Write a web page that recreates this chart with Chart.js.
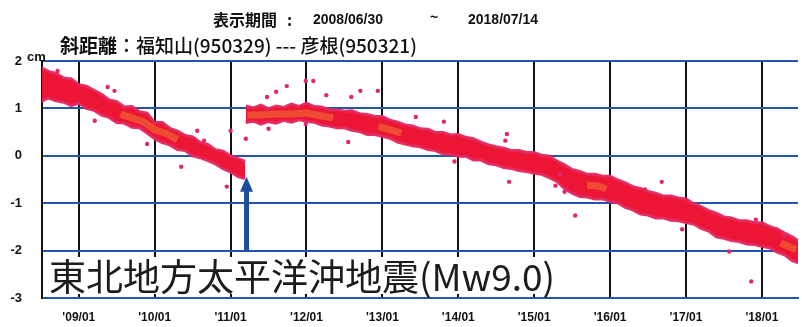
<!DOCTYPE html>
<html>
<head>
<meta charset="utf-8">
<script src="https://cdn.jsdelivr.net/npm/chart.js@4.4.1/dist/chart.umd.min.js"></script>
<style>
  body { margin: 0; background: #fff; overflow: hidden; }
  #wrap { width: 802px; height: 327px; position: relative; }
</style>
</head>
<body>
<div id="wrap"><canvas id="myChart"></canvas></div>
<script>

// header texts
var periodLabel = '表示期間';
var periodStart = '2008/06/30';
var periodEnd = '2018/07/14';
var baselineLabel = '斜距離';
var baselineText = '：福知山(950329) --- 彦根(950321)';
var quakeLabel = '東北地方太平洋沖地震(Mw9.0)';

// x = decimal year, y = cm
var yTicks = [-3, -2, -1, 0, 1, 2];
var xTicks = [2009, 2010, 2011, 2012, 2013, 2014, 2015, 2016, 2017, 2018];
var xMin = 2008.515, xMax = 2018.476;

// band before the quake (upper / lower edge of the dot cloud)
var t1 = [2008.5, 2008.6, 2008.7, 2008.8, 2008.9, 2009.0, 2009.1, 2009.2, 2009.3, 2009.4,
  2009.5, 2009.6, 2009.7, 2009.8, 2009.9, 2010.0, 2010.1, 2010.2, 2010.3, 2010.4,
  2010.5, 2010.6, 2010.7, 2010.8, 2010.9, 2011.0, 2011.1, 2011.19];
var up1 = [1.86, 1.78, 1.74, 1.64, 1.62, 1.50, 1.47, 1.38, 1.30, 1.18,
  1.14, 1.03, 1.04, 0.93, 0.90, 0.70, 0.70, 0.58, 0.52, 0.43,
  0.40, 0.28, 0.24, 0.13, 0.10, 0.00, -0.06, -0.12];
var lo1 = [1.14, 1.22, 1.16, 1.13, 1.06, 1.11, 1.00, 0.96, 0.86, 0.81,
  0.70, 0.69, 0.60, 0.59, 0.48, 0.36, 0.28, 0.23, 0.13, 0.11,
  0.00, -0.04, -0.10, -0.17, -0.27, -0.34, -0.44, -0.48];

// band after the quake
var t2 = [2011.2, 2011.3, 2011.4, 2011.5, 2011.6, 2011.7, 2011.8, 2011.9, 2012.0, 2012.1,
  2012.2, 2012.3, 2012.4, 2012.5, 2012.6, 2012.7, 2012.8, 2012.9, 2013.0, 2013.1,
  2013.2, 2013.3, 2013.4, 2013.5, 2013.6, 2013.7, 2013.8, 2013.9, 2014.0, 2014.1,
  2014.2, 2014.3, 2014.4, 2014.5, 2014.6, 2014.7, 2014.8, 2014.9, 2015.0, 2015.1,
  2015.2, 2015.3, 2015.4, 2015.5, 2015.6, 2015.7, 2015.8, 2015.9, 2016.0, 2016.1,
  2016.2, 2016.3, 2016.4, 2016.5, 2016.6, 2016.7, 2016.8, 2016.9, 2017.0, 2017.1,
  2017.2, 2017.3, 2017.4, 2017.5, 2017.6, 2017.7, 2017.8, 2017.9, 2018.0, 2018.1,
  2018.2, 2018.3, 2018.4, 2018.5];
var up2 = [1.05, 1.01, 1.07, 0.99, 1.05, 1.02, 1.09, 1.04, 1.11, 1.04,
  1.03, 0.97, 0.97, 0.94, 0.95, 0.89, 0.87, 0.83, 0.83, 0.75,
  0.71, 0.65, 0.63, 0.57, 0.56, 0.49, 0.49, 0.44, 0.45, 0.39,
  0.36, 0.29, 0.23, 0.19, 0.16, 0.11, 0.11, 0.07, 0.07, 0.01,
  -0.01, -0.11, -0.19, -0.29, -0.33, -0.39, -0.39, -0.43, -0.43, -0.51,
  -0.57, -0.65, -0.69, -0.75, -0.79, -0.85, -0.85, -0.89, -0.91, -1.01,
  -1.07, -1.16, -1.21, -1.29, -1.31, -1.37, -1.37, -1.41, -1.41, -1.49,
  -1.54, -1.63, -1.71, -1.81];
var lo2 = [0.70, 0.73, 0.67, 0.72, 0.69, 0.75, 0.71, 0.76, 0.73, 0.71,
  0.65, 0.63, 0.59, 0.59, 0.54, 0.51, 0.45, 0.45, 0.41, 0.37,
  0.29, 0.25, 0.21, 0.19, 0.13, 0.11, 0.04, 0.03, -0.01, -0.01,
  -0.09, -0.09, -0.17, -0.19, -0.25, -0.27, -0.31, -0.33, -0.37, -0.39,
  -0.46, -0.54, -0.69, -0.79, -0.86, -0.87, -0.91, -0.91, -0.96, -0.99,
  -1.09, -1.14, -1.23, -1.25, -1.31, -1.31, -1.36, -1.37, -1.41, -1.44,
  -1.53, -1.59, -1.71, -1.74, -1.79, -1.81, -1.86, -1.87, -1.91, -1.94,
  -2.03, -2.09, -2.21, -2.27];

// orange core inside the band
var tCore = [2009.55, 2009.7, 2009.85, 2010.0, 2010.15, 2010.3, null,
  2011.22, 2011.4, 2011.6, 2011.8, 2012.0, 2012.2, 2012.35, null,
  2012.95, 2013.1, 2013.25, null, 2015.7, 2015.85, 2015.95, null, 2018.25, 2018.45];
var yCore = [0.88, 0.80, 0.72, 0.55, 0.47, 0.34, null,
  0.86, 0.86, 0.88, 0.88, 0.90, 0.84, 0.80, null,
  0.62, 0.55, 0.48, null, -0.62, -0.64, -0.70, null, -1.84, -1.98];

// scattered dots off the band
var outX = [2008.72, 2009.38, 2009.47, 2009.21, 2010.56, 2010.65, 2010.35, 2011.0, 2011.2, 2010.95,
  2011.99, 2012.09, 2011.74, 2011.6, 2011.48, 2011.5, 2011.99, 2012.26, 2012.59, 2012.71,
  2012.94, 2012.55, 2013.44, 2013.81, 2014.64, 2014.62, 2014.67, 2015.28, 2015.4, 2015.54,
  2016.68, 2017.57, 2017.86, 2015.34, 2016.46, 2017.92, 2018.3, 2009.9, 2013.95, 2016.95];
var outY = [1.79, 1.45, 1.37, 0.74, 0.53, 0.32, -0.23, 0.53, 0.36, -0.65,
  1.58, 1.58, 1.47, 1.35, 1.24, 0.57, 0.67, 1.28, 1.24, 1.37,
  1.37, 0.29, 0.82, 0.72, 0.46, 0.32, -0.55, -0.63, -0.76, -1.26,
  -0.55, -2.02, -2.65, -0.38, -0.71, -1.35, -1.68, 0.25, -0.12, -1.55];

// quake arrow
var quakeX = 2011.21, arrowTop = -0.44, arrowBottom = -2.0;

function pts(xs, ys) {
  return xs.map((x, i) => ({ x: x, y: ys[i] }));
}

var red = 'rgb(236, 22, 52)';
var edge = 'rgba(228, 40, 95, 0.95)';

var overlay = {
  id: 'overlay',
  afterDatasetsDraw(chart) {
    var ctx = chart.ctx;
    var xs = chart.scales.x, ys = chart.scales.y;
    var ax = xs.getPixelForValue(quakeX);
    var aTop = ys.getPixelForValue(arrowTop);
    var aBot = ys.getPixelForValue(arrowBottom);
    ctx.save();
    // arrow
    ctx.fillStyle = 'rgb(28, 78, 160)';
    ctx.fillRect(ax - 2.5, aTop + 12, 5, aBot - aTop - 12);
    ctx.beginPath();
    ctx.moveTo(ax, aTop);
    ctx.lineTo(ax - 6.5, aTop + 15);
    ctx.lineTo(ax + 6.5, aTop + 15);
    ctx.closePath();
    ctx.fill();
    // quake label on white box
    ctx.font = '37px "Noto Sans CJK JP"';
    var w = ctx.measureText(quakeLabel).width;
    ctx.fillStyle = '#fff';
    ctx.fillRect(chart.chartArea.left + 2, 257, w + 12, 37);
    ctx.fillStyle = '#1c1c1c';
    ctx.textBaseline = 'middle';
    ctx.fillText(quakeLabel, 49, 277);
    ctx.restore();
  },
  afterDraw(chart) {
    var ctx = chart.ctx;
    ctx.save();
    ctx.fillStyle = '#111';
    ctx.textBaseline = 'middle';
    ctx.font = 'bold 16px "Noto Sans CJK JP"';
    ctx.fillText(periodLabel, 213, 20);
    ctx.fillText(':', 287, 20);
    ctx.font = 'bold 14px "Liberation Sans"';
    ctx.fillText(periodStart, 313, 20);
    ctx.fillText('~', 430, 18);
    ctx.fillText(periodEnd, 468, 20);
    ctx.font = 'bold 19px "Noto Sans CJK JP"';
    ctx.fillText(baselineLabel, 60, 46);
    var bw = ctx.measureText(baselineLabel).width;
    ctx.font = '500 19px "Noto Sans CJK JP"';
    ctx.fillText(baselineText, 60 + bw, 46);
    ctx.font = 'bold 13px "Liberation Sans"';
    ctx.fillText('cm', 27, 57);
    ctx.restore();
  }
};

var ctx = document.getElementById('myChart').getContext('2d');
var chart = new Chart(ctx, {
  type: 'line',
  data: {
    datasets: [
      { data: pts(t1, up1), borderColor: edge, borderWidth: 3, pointRadius: 0, fill: false, order: 3 },
      { data: pts(t1, lo1), borderColor: edge, borderWidth: 3, pointRadius: 0, fill: '-1', backgroundColor: red, order: 3 },
      { data: pts(t2, up2), borderColor: edge, borderWidth: 3, pointRadius: 0, fill: false, order: 3 },
      { data: pts(t2, lo2), borderColor: edge, borderWidth: 3, pointRadius: 0, fill: '-1', backgroundColor: red, order: 3 },
      { data: pts(tCore, yCore), borderColor: 'rgba(242, 110, 50, 0.6)', borderWidth: 7, pointRadius: 0,
        spanGaps: false, fill: false, order: 1 },
      { data: pts(outX, outY), showLine: false, pointRadius: 2.2, borderWidth: 0,
        pointBackgroundColor: 'rgb(225, 40, 110)', fill: false, order: 0 }
    ]
  },
  options: {
    responsive: true,
    maintainAspectRatio: false,
    animation: false,
    layout: { padding: { top: 61, left: 0, right: 0, bottom: 0 } },
    plugins: { legend: { display: false }, tooltip: { enabled: false } },
    scales: {
      x: {
        type: 'linear',
        min: xMin,
        max: xMax,
        afterFit: (s) => { s.height = 29; },
        afterBuildTicks: (s) => { s.ticks = xTicks.map((v) => ({ value: v })); },
        ticks: {
          padding: 12,
          color: '#111',
          font: { family: 'Liberation Sans Narrow, Liberation Sans', size: 12, weight: 'bold' },
          callback: (v) => "'" + String(v).slice(2) + '/01'
        },
        grid: { color: '#111', lineWidth: 2, drawTicks: false },
        border: { color: 'rgb(35, 85, 170)', width: 2 }
      },
      y: {
        min: -3,
        max: 2,
        afterFit: (s) => { s.width = 42; },
        afterBuildTicks: (s) => { s.ticks = yTicks.map((v) => ({ value: v })); },
        ticks: {
          padding: 20,
          color: '#111',
          font: { family: 'Liberation Sans', size: 13, weight: 'bold' }
        },
        grid: { color: 'rgb(35, 85, 170)', lineWidth: 2, drawTicks: false },
        border: { color: '#111', width: 2 }
      }
    }
  },
  plugins: [overlay]
});

</script>
</body>
</html>
